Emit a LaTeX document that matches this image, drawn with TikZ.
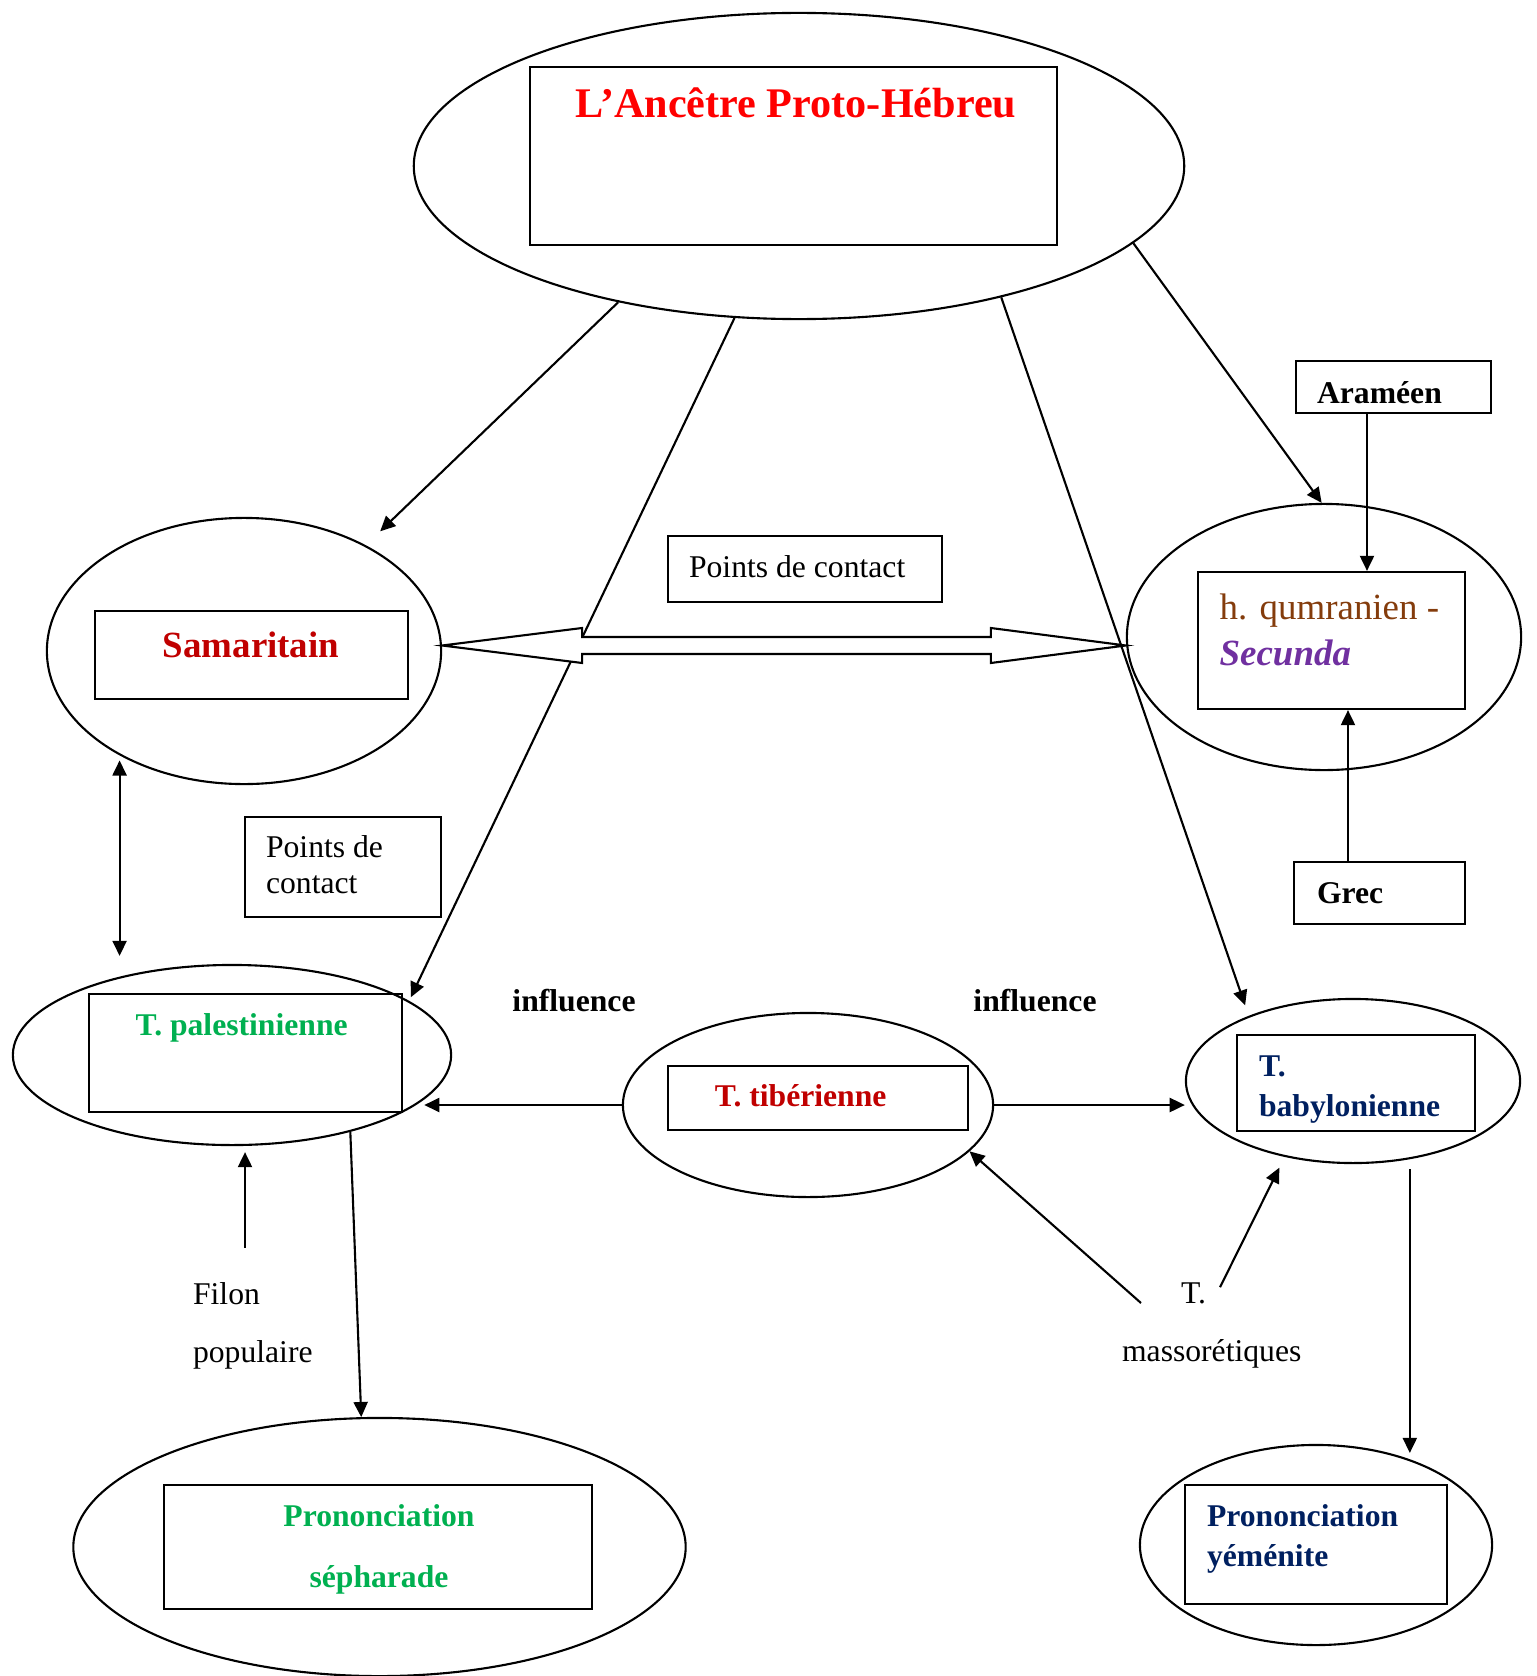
\documentclass[tikz,border=0pt]{standalone}
\usepackage{fontspec}
\setmainfont{Liberation Serif}
\usetikzlibrary{shapes.geometric}
\usetikzlibrary{arrows.meta}
\usetikzlibrary{calc}
\definecolor{hebred}{RGB}{255,0,0}
\definecolor{samred}{RGB}{192,0,0}
\definecolor{palgreen}{RGB}{0,176,80}
\definecolor{babnavy}{RGB}{0,32,96}
\definecolor{qumbrown}{RGB}{132,60,12}
\definecolor{secpurple}{RGB}{112,48,160}

\begin{document}
\begin{tikzpicture}
    [
    x=0.01cm, y=-0.01cm,
    line width=0.6pt,
    oval/.style={ellipse, draw, inner sep=0pt},
    frame/.style={rectangle, draw, inner sep=0pt},
    txt/.style={inner sep=0pt, font=\fontsize{9}{10.8}\selectfont},
    bold txt/.style={inner sep=0pt, font=\fontsize{9}{10.8}\selectfont\bfseries},
    big txt/.style={inner sep=0pt, font=\fontsize{10.5}{13.1}\selectfont},
    arr/.style={-{Triangle[length=4.3pt, width=4pt]}},
    dbl/.style={{Triangle[length=4.3pt, width=4pt]}-{Triangle[length=4.3pt, width=4pt]}},
    ]

    \useasboundingbox (0,0) rectangle (1536,1676);

    \node[oval, minimum width=7.7cm, minimum height=3.06cm] (ell_top) at (799,166) {};
    \node[oval, minimum width=3.94cm, minimum height=2.66cm] (ell_sam) at (244,651) {};
    \node[oval, minimum width=3.94cm, minimum height=2.66cm] (ell_qum) at (1324,637) {};
    \node[oval, minimum width=4.38cm, minimum height=1.8cm] (ell_pal) at (232,1055) {};
    \node[oval, minimum width=3.7cm, minimum height=1.84cm] (ell_tib) at (808,1105) {};
    \node[oval, minimum width=3.34cm, minimum height=1.64cm] (ell_bab) at (1353,1081) {};
    \node[oval, minimum width=6.12cm, minimum height=2.58cm] (ell_sef) at (379.5,1547) {};
    \node[oval, minimum width=3.52cm, minimum height=2cm] (ell_yem) at (1316,1545) {};

    \node[frame, minimum width=5.27cm, minimum height=1.78cm] (box_title) at (793.5,156) {};
    \node[frame, minimum width=3.13cm, minimum height=0.88cm] (box_sam) at (251.5,655) {};
    \node[frame, minimum width=2.67cm, minimum height=1.37cm] (box_qum) at (1331.5,640.5) {};
    \node[frame, minimum width=1.95cm, minimum height=0.52cm] (box_aram) at (1393.5,387) {};
    \node[frame, minimum width=1.71cm, minimum height=0.62cm] (box_grec) at (1379.5,893) {};
    \node[frame, minimum width=2.74cm, minimum height=0.66cm] (box_pdc_top) at (805,569) {};
    \node[frame, minimum width=1.96cm, minimum height=1cm] (box_pdc_left) at (343,867) {};
    \node[frame, minimum width=3.13cm, minimum height=1.18cm] (box_pal) at (245.5,1053) {};
    \node[frame, minimum width=3cm, minimum height=0.64cm] (box_tib) at (818,1098) {};
    \node[frame, minimum width=2.38cm, minimum height=0.96cm] (box_bab) at (1356,1083) {};
    \node[frame, minimum width=4.28cm, minimum height=1.24cm] (box_sef) at (378,1547) {};
    \node[frame, minimum width=2.62cm, minimum height=1.19cm] (box_yem) at (1316,1544.5) {};

    \node[inner sep=0pt, anchor=base, font=\fontsize{12}{14}\selectfont\bfseries, text=hebred] (txt_title) at (796,117.6) {L’Ancêtre Proto-Hébreu};
    \node[big txt, anchor=base, font=\fontsize{10.5}{13.1}\selectfont\bfseries, text=samred] (txt_sam) at (251,657) {Samaritain};
    \node[big txt, anchor=north west, align=left, text=qumbrown] (txt_qum) at (1218.6,593) {h. qumranien -\\\textcolor{secpurple}{\textbf{\textit{Secunda}}}};
    \node[txt, anchor=base west] (txt_pdc_top) at (688,577) {Points de contact};
    \node[txt, anchor=north west, align=left, font=\fontsize{9}{10.4}\selectfont] (txt_pdc_left) at (265,834) {Points de\\contact};
    \node[bold txt, anchor=base west] (txt_aram) at (1316,403) {Araméen};
    \node[bold txt, anchor=base west] (txt_grec) at (1316,903) {Grec};
    \node[bold txt, anchor=base, text=palgreen] (txt_pal) at (241.6,1035) {T. palestinienne};
    \node[bold txt, anchor=base] (txt_infl_left) at (574,1011) {influence};
    \node[bold txt, anchor=base] (txt_infl_right) at (1035,1011) {influence};
    \node[bold txt, anchor=base, text=samred] (txt_tib) at (800.6,1106) {T. tibérienne};
    \node[bold txt, anchor=north west, align=left, font=\fontsize{9}{11.4}\selectfont\bfseries, text=babnavy] (txt_bab) at (1258,1055) {T.\\babylonienne};
    \node[txt, anchor=north west, align=left, font=\fontsize{9}{16.5}\selectfont] (txt_filon) at (192,1281) {Filon\\populaire};
    \node[txt, anchor=base west] (txt_t) at (1180,1303) {T.};
    \node[txt, anchor=base west] (txt_masso) at (1121,1361) {massorétiques};
    \node[bold txt, anchor=north, align=center, font=\fontsize{9}{17.4}\selectfont\bfseries, text=palgreen] (txt_sef) at (379,1503) {Prononciation\\sépharade};
    \node[bold txt, anchor=north west, align=left, font=\fontsize{9}{11.4}\selectfont\bfseries, text=babnavy] (txt_yem) at (1206,1503) {Prononciation\\yéménite};

    \draw[arr, shorten >=0.2cm] (ell_top.217) -- (ell_sam.41);
    \draw[arr, shorten >=0.04cm] (ell_top.247) -- (ell_pal.17);
    \draw[arr, shorten >=0.11cm] (ell_top.327) -- (ell_bab.148);
    \draw[arr] (ell_top.347) -- (ell_qum.91);

    \coordinate (dbl_left) at ([yshift=0.055cm]ell_sam.east);
    \coordinate (dbl_right) at (dbl_left -| ell_qum.west);
    \draw[fill=white] (dbl_left) -- ++(140,-17.5) -- ++(0,9)
        -- ($(dbl_right)+(-135,-8.5)$) -- ++(0,-9)
        -- (dbl_right) -- ++(-135,17.5) -- ++(0,-9)
        -- ($(dbl_left)+(140,8.5)$) -- ++(0,9) -- cycle;

    \draw[arr] ([xshift=-0.265cm]box_aram.south) -- ([xshift=-0.265cm]box_aram.south |- box_qum.north);
    \draw[arr] ([xshift=-0.315cm]box_grec.north) -- ([xshift=-0.315cm]box_grec.north |- box_qum.south);

    \draw[dbl, shorten <=0.05cm, shorten >=0.08cm] (ell_sam.220) -- (ell_sam.220 |- ell_pal.north);
    \draw[arr, shorten <=0.33cm, shorten >=0.06cm] ([xshift=0.13cm]ell_pal.south |- txt_filon.north) -- ([xshift=0.13cm]ell_pal.south);
    \draw[arr] (ell_pal.327) -- (ell_sef.98);

    \draw[arr] (ell_tib.west) -- (ell_tib.west -| ell_pal.-13);
    \draw[arr] (ell_tib.east) -- (ell_tib.east -| ell_bab.west);

    \draw[arr] ([xshift=-0.39cm]txt_t.base west) -- (ell_tib.-16);
    \draw[arr, shorten >=0.12cm] ([xshift=0.13cm, yshift=-0.06cm]txt_t.north east) -- (ell_bab.228);
    \draw[arr, shorten <=0.1cm, shorten >=0.05cm] (ell_bab.-54) -- (ell_bab.-54 |- ell_yem.44);
\end{tikzpicture}
\end{document}
